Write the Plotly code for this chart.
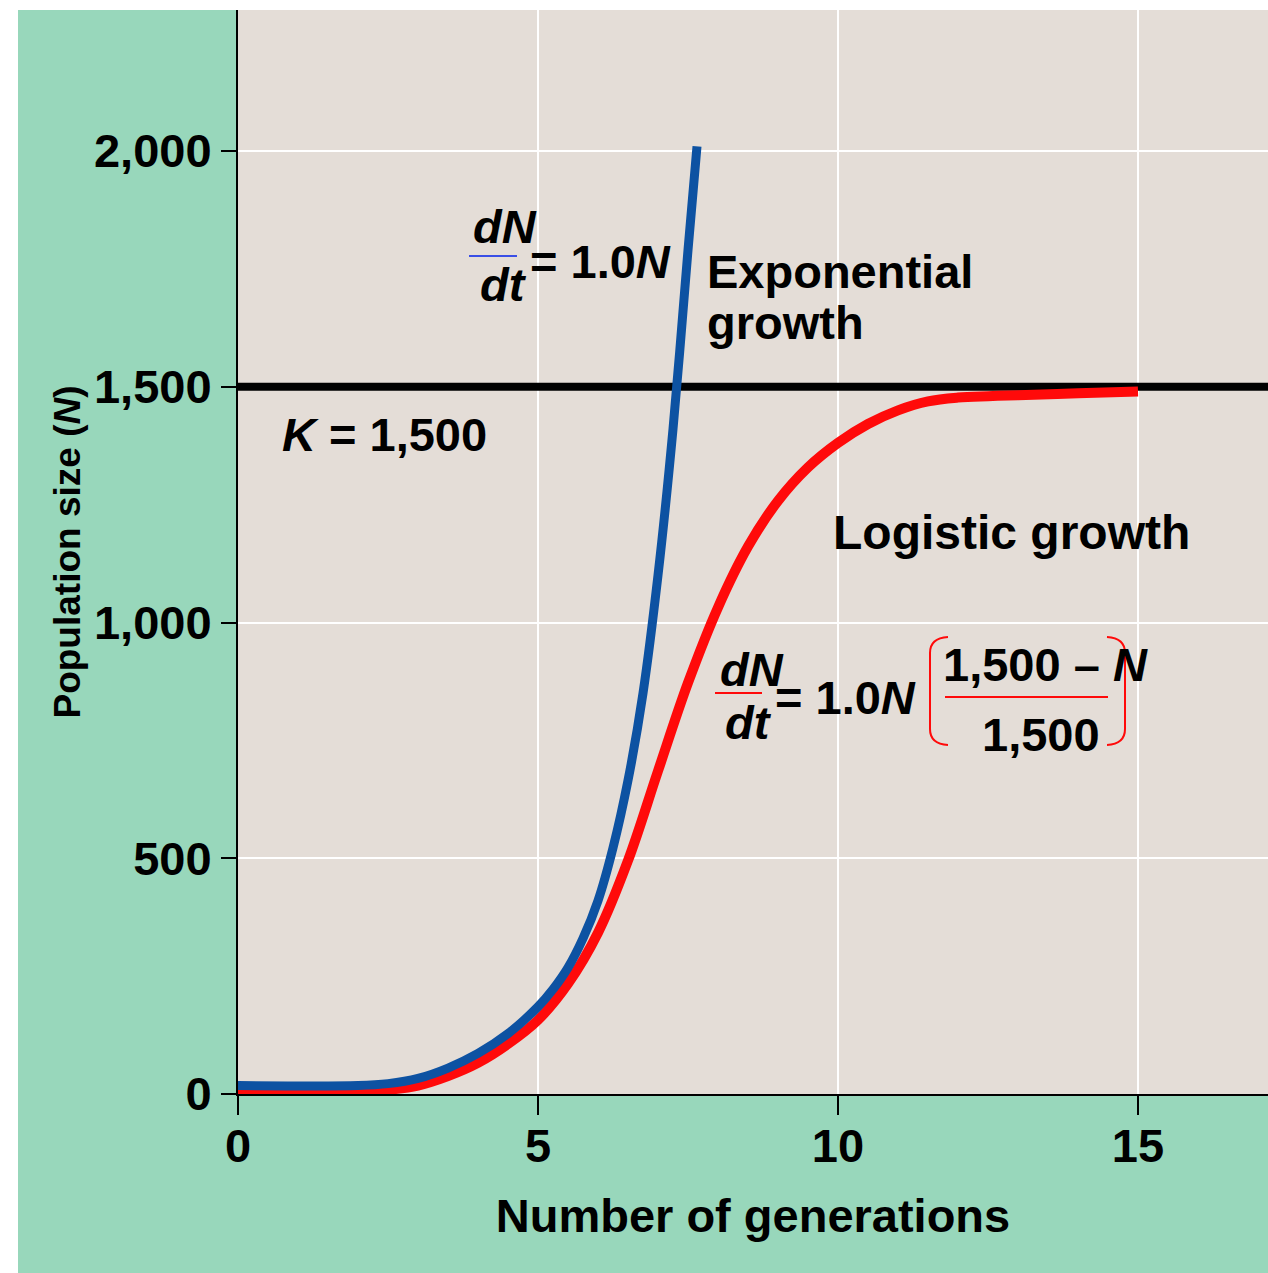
import plotly.graph_objects as go

# ---- data ----
generations_exp = [0, 2.0, 2.5, 3.0, 3.5, 4.0, 4.5, 5.0, 5.25, 5.5, 5.75, 6.0, 6.25, 6.5, 6.75, 7.0, 7.25, 7.5, 7.65]
population_exp = [18, 18, 22, 33, 55, 86, 128, 185, 222, 268, 330, 410, 522, 665, 850, 1100, 1410, 1790, 2010]

generations_log = [0, 2.0, 2.5, 3.0, 3.5, 4.0, 4.5, 5.0, 5.5, 6.0, 6.5, 7.0, 7.5, 8.0, 8.5, 9.0, 9.5,
                   10.0, 10.5, 11.0, 11.5, 12.0, 12.5, 13.0, 14.0, 15.0]
population_log = [7, 7, 9, 18, 38, 66, 106, 157, 234, 342, 495, 685, 872, 1032, 1161, 1258, 1329,
                  1381, 1421, 1450, 1469, 1477, 1480, 1482, 1486, 1490]

K = 1500
x_tick_vals = [0, 5, 10, 15]
x_tick_text = ["0", "5", "10", "15"]
y_tick_vals = [0, 500, 1000, 1500, 2000]
y_tick_text = ["0", "500", "1,000", "1,500", "2,000"]

# ---- layout geometry (pixel coordinates of the page) ----
W, H = 1268, 1273
L, R, T, B = 238, 0, 10, 179
PLOT_B = H - B
X_MAX = (W - L - R) / 60.0
Y_MAX = (H - T - B) * 2000 / 943.0

def px(xp):
    return (xp - L) / 60.0

def py(yp):
    return (PLOT_B - yp) * 2000 / 943.0

def ppx(xp):
    return (xp - L) / (W - L - R)

def ppy(yp):
    return (PLOT_B - yp) / (H - T - B)

GREEN = "#98D7BB"
BEIGE = "#E4DDD7"
BLUE = "#0D52A2"
RED = "#FF0A0A"
FONT = "Liberation Sans, Arial, sans-serif"
FS = 47

fig = go.Figure()
fig.add_trace(go.Scatter(x=[0, X_MAX], y=[K, K], mode="lines",
                         line=dict(color="black", width=8),
                         hoverinfo="skip", showlegend=False))
fig.add_trace(go.Scatter(x=generations_log, y=population_log, mode="lines",
                         line=dict(color=RED, width=10, shape="spline", smoothing=1.0),
                         hoverinfo="skip", showlegend=False))
fig.add_trace(go.Scatter(x=generations_exp, y=population_exp, mode="lines",
                         line=dict(color=BLUE, width=9, shape="spline", smoothing=1.0),
                         hoverinfo="skip", showlegend=False))

shapes = [
    # white margins around the green panel
    dict(type="rect", xref="paper", yref="paper", x0=ppx(-5), x1=ppx(18), y0=ppy(H + 5), y1=ppy(-5),
         fillcolor="white", line=dict(width=0), layer="below"),
    dict(type="rect", xref="paper", yref="paper", x0=ppx(-5), x1=ppx(W + 5), y0=ppy(T), y1=ppy(-5),
         fillcolor="white", line=dict(width=0), layer="below"),
    # fraction bars
    dict(type="line", xref="x", yref="y", x0=px(469), x1=px(517), y0=py(256), y1=py(256),
         line=dict(color="#3A4FE6", width=2), layer="above"),
    dict(type="line", xref="x", yref="y", x0=px(715), x1=px(762), y0=py(693), y1=py(693),
         line=dict(color=RED, width=2), layer="above"),
    dict(type="line", xref="x", yref="y", x0=px(945), x1=px(1108), y0=py(697), y1=py(697),
         line=dict(color=RED, width=2), layer="above"),
]

def bracket(x_end, x_side, y_top, y_bot, r=16):
    return ("M {a},{b} Q {c},{d} {e},{f} L {g},{h} Q {i},{j} {k},{l}".format(
        a=px(x_end), b=py(y_top),
        c=px(x_side), d=py(y_top + 1),
        e=px(x_side), f=py(y_top + r),
        g=px(x_side), h=py(y_bot - r),
        i=px(x_side), j=py(y_bot - 1),
        k=px(x_end), l=py(y_bot)))

shapes.append(dict(type="path", xref="x", yref="y", path=bracket(948, 930, 637, 745),
                   line=dict(color=RED, width=2), layer="above"))
shapes.append(dict(type="path", xref="x", yref="y", path=bracket(1107, 1125, 637, 745),
                   line=dict(color=RED, width=2), layer="above"))

def ann(text, xp, yp, anchor="left", size=FS):
    return dict(text=text, x=px(xp), y=py(yp), xref="x", yref="y", xanchor=anchor, yanchor="middle",
                showarrow=False, font=dict(family=FONT, size=size, color="black", weight="bold"))

annotations = [
    ann("<i>dN</i>", 471, 226),
    ann("<i>dt</i>", 478, 284),
    ann("= 1.0<i>N</i>", 528, 261),
    ann("Exponential", 705, 271),
    ann("growth", 705, 322),
    ann("<i>K</i> = 1,500", 280, 434),
    ann("Logistic growth", 831, 532, size=48),
    ann("<i>dN</i>", 718, 669),
    ann("<i>dt</i>", 723, 722),
    ann("= 1.0<i>N</i>", 773, 697),
    ann("1,500 – <i>N</i>", 941, 664),
    ann("1,500", 980, 734),
]

fig.update_layout(
    width=W, height=H,
    margin=dict(l=L, r=R, t=T, b=B, pad=0),
    paper_bgcolor=GREEN, plot_bgcolor=BEIGE,
    showlegend=False,
    shapes=shapes, annotations=annotations,
    font=dict(family=FONT, color="black"),
)
fig.update_xaxes(
    range=[0, X_MAX], tickmode="array", tickvals=x_tick_vals, ticktext=x_tick_text,
    showgrid=True, gridcolor="white", gridwidth=2, zeroline=False,
    showline=True, linecolor="black", linewidth=2,
    ticks="outside", ticklen=19, tickwidth=2, tickcolor="black",
    tickfont=dict(family=FONT, size=FS, color="black", weight="bold"),
    ticklabelstandoff=-9,
    title=dict(text="Number of generations", font=dict(family=FONT, size=FS, color="black", weight="bold"),
               standoff=28),
    automargin=False,
)
fig.update_yaxes(
    range=[0, Y_MAX], tickmode="array", tickvals=y_tick_vals, ticktext=y_tick_text,
    showgrid=True, gridcolor="white", gridwidth=2, zeroline=False,
    showline=True, linecolor="black", linewidth=2,
    ticks="outside", ticklen=15, tickwidth=2, tickcolor="black",
    tickfont=dict(family=FONT, size=FS, color="black", weight="bold"),
    ticklabelstandoff=0,
    title=dict(text="Population size (<i>N</i>)", font=dict(family=FONT, size=37, color="black", weight="bold"),
               standoff=2),
    automargin=False,
)

fig.write_html(
    "out.html",
    config={"displayModeBar": False},
    post_script="document.body.style.margin='0';document.body.style.overflow='hidden';",
)
